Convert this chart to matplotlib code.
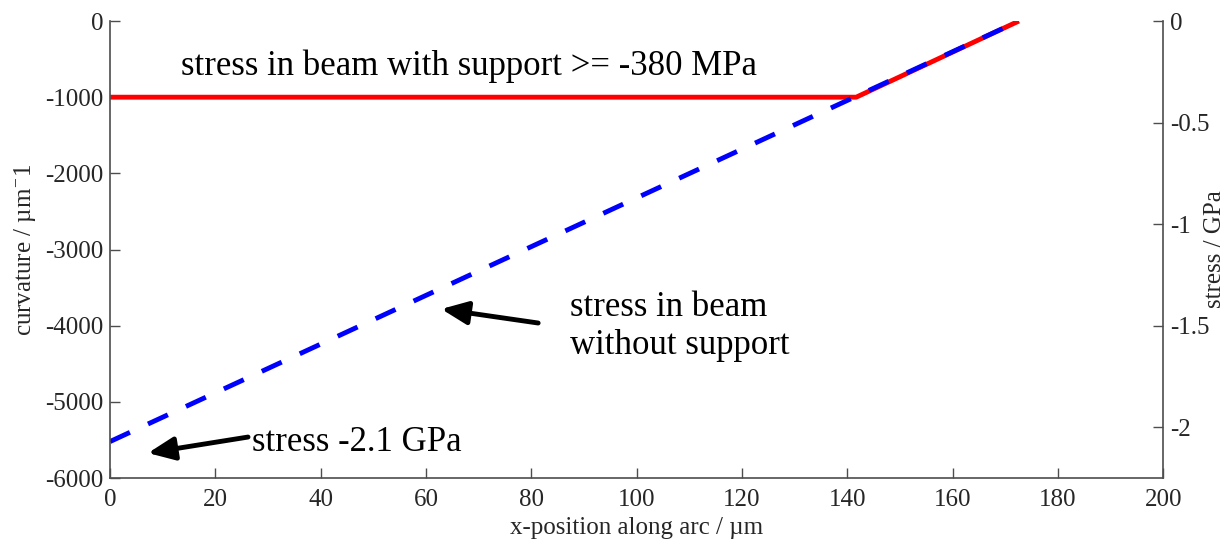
import matplotlib
matplotlib.use("Agg")
import matplotlib.pyplot as plt

# data
x_support = [0, 141.7, 172.6]
curv_support = [-1000, -1000, 0]
x_free = [0, 172.6]
curv_free = [-5521, 0]

x_ticks = [0, 20, 40, 60, 80, 100, 120, 140, 160, 180, 200]
curv_ticks = [0, -1000, -2000, -3000, -4000, -5000, -6000]
stress_ticks = [0, -0.5, -1, -1.5, -2]
stress_labels = ["0", "-0.5", "-1", "-1.5", "-2"]

plt.rcParams['font.family'] = ['Liberation Serif', 'DejaVu Serif']
plt.rcParams['mathtext.fontset'] = 'stix'
plt.rcParams['axes.unicode_minus'] = False

axis_col = '#4d4d4d'
text_col = '#262626'

fig = plt.figure(figsize=(12.27, 5.46), dpi=100)
ax = fig.add_axes([0.0897, 0.1245, 0.948 - 0.0897, 0.9615 - 0.1245])
ax2 = ax.twinx()

ax.plot(x_support, curv_support, color='red', lw=3.5, solid_capstyle='butt')
ax.plot(x_free, curv_free, color='blue', lw=3.5, linestyle=(0, (4.5, 4.1)))

ax.set_xlim(0, 200)
ax.set_ylim(-6000, 0)
ax.set_xticks(x_ticks)
ax.set_yticks(curv_ticks)
ax2.set_ylim(-2.25, 0)
ax2.set_yticks(stress_ticks)
ax2.set_yticklabels(stress_labels)

for a in (ax, ax2):
    a.spines['top'].set_visible(False)
    for s in a.spines.values():
        s.set_color(axis_col)
        s.set_linewidth(1.2)
    a.tick_params(direction='in', length=7, width=1, colors=axis_col,
                  labelcolor=text_col, labelsize=18, pad=5)
ax.tick_params(axis='x', pad=8)
ax.spines['right'].set_visible(False)
ax2.spines['left'].set_visible(False)
ax2.spines['bottom'].set_visible(False)

ax.set_xlabel('x-position along arc / µm', fontsize=18, color=text_col, labelpad=4)
ax.set_ylabel(r'curvature / µm$^{\mathregular{-}}$1', fontsize=18, color=text_col, labelpad=5)
ax2.set_ylabel('stress / GPa', fontsize=18, color=text_col)
ax2.yaxis.set_label_coords(1.039, 0.5)

ax.text(13.5, -591, 'stress in beam with support >= -380 MPa', fontsize=25,
        va='center', ha='left', color='black')
ax.text(87.4, -4010, 'stress in beam\nwithout support', fontsize=25,
        va='center', ha='left', color='black', linespacing=1.2)
ax.text(27.0, -5540, 'stress -2.1 GPa', fontsize=25, va='center', ha='left', color='black')

arrow = dict(arrowstyle='-|>,head_length=0.8,head_width=0.35', lw=3.5, color='black',
             shrinkA=0, shrinkB=0, mutation_scale=20)
ax.annotate('', xy=(62.9, -3781), xytext=(81.3, -3965), arrowprops=arrow)
ax.annotate('', xy=(7.2, -5672), xytext=(26.2, -5462), arrowprops=arrow)

fig.savefig('out.png', dpi=100)
